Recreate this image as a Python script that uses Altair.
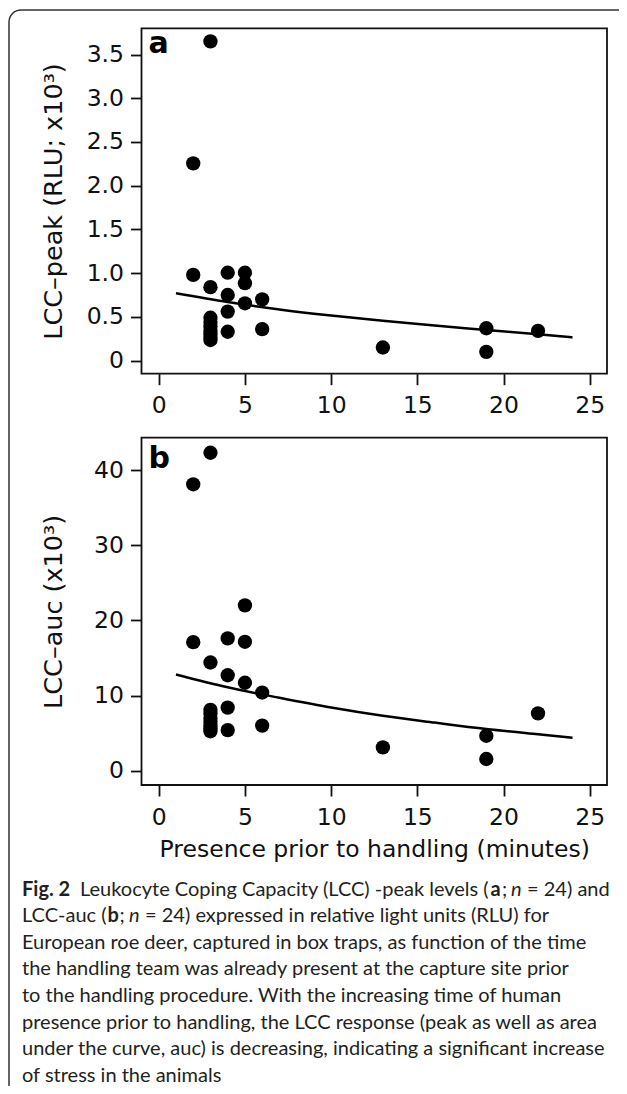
import altair as alt
import pandas as pd

# ---------------- data ----------------
minutes_a = [3, 2, 2, 3, 4, 5, 5, 4, 5, 6, 4, 6, 4, 13, 19, 19, 22, 3, 3, 3, 3, 3, 3, 3]
peak_a = [3.65, 2.255, 0.98, 0.84, 1.005, 1.005, 0.885, 0.75, 0.655, 0.70, 0.56, 0.36,
          0.33, 0.15, 0.37, 0.10, 0.34, 0.49, 0.44, 0.39, 0.34, 0.30, 0.26, 0.235]

minutes_b = [3, 2, 5, 2, 4, 5, 3, 4, 5, 6, 4, 4, 6, 13, 19, 19, 22, 3, 3, 3, 3, 3, 3, 3]
auc_b = [42.3, 38.1, 22.0, 17.1, 17.6, 17.15, 14.4, 12.7, 11.7, 10.4, 8.4, 5.4,
         6.0, 3.1, 4.65, 1.56, 7.63, 8.1, 7.6, 7.0, 6.5, 6.0, 5.6, 5.25]

fit_minutes = [1, 4, 7, 10, 13, 16, 19, 22, 24]
fit_peak = [0.77, 0.67, 0.585, 0.515, 0.455, 0.40, 0.35, 0.30, 0.265]
fit_auc = [12.8, 11.1, 9.7, 8.4, 7.3, 6.4, 5.55, 4.85, 4.4]

x_ticks = [0, 5, 10, 15, 20, 25]
peak_ticks = [0, 0.5, 1.0, 1.5, 2.0, 2.5, 3.0, 3.5]
auc_ticks = [0, 10, 20, 30, 40]
x_domain = [-1, 26]
peak_domain = [-0.15, 3.80]
auc_domain = [-1.9, 44.3]

x_title = "Presence prior to handling (minutes)"
peak_title = "LCC\u2013peak (RLU; x10\u00b3)"
auc_title = "LCC\u2013auc (x10\u00b3)"

caption_line1 = ["Fig. 2", "Leukocyte Coping Capacity (LCC) -peak levels (", "a", ";", "n", "= 24) and"]
caption_line2 = ["LCC-auc (", "b", ";", "n", "= 24) expressed in relative light units (RLU) for"]
caption_rest = [
    "European roe deer, captured in box traps, as function of the time",
    "the handling team was already present at the capture site prior",
    "to the handling procedure. With the increasing time of human",
    "presence prior to handling, the LCC response (peak as well as area",
    "under the curve, auc) is decreasing, indicating a significant increase",
    "of stress in the animals",
]

# ---------------- layout ----------------
W, H = 611, 1078
PL, PR = 133.5, 599.0
A_TOP, A_BOT = 20.3, 365.7
B_TOP, B_BOT = 429.7, 777.0
AX_FONT = "DejaVu Sans"
CAP_FONT = "Lato"
CAP_SIZE = 20
INK = "#111111"

one = pd.DataFrame({"k": [0]})


def x_axis(bottom, with_title):
    kw = dict(orient="bottom", offset=bottom - H, values=x_ticks, domain=False, grid=False,
              tickSize=11, tickWidth=1.8, tickColor=INK, labelFont=AX_FONT, labelFontSize=23.5,
              labelColor=INK, labelPadding=9, labelFlush=False, labelOverlap=False, labelBound=False)
    if with_title:
        kw.update(title=x_title, titleFont=AX_FONT, titleFontSize=23.5, titleFontWeight="normal",
                  titleColor=INK, titleX=(PL + PR) / 2, titleY=848.7 - bottom, titleAlign="center",
                  titleBaseline="alphabetic", titleAngle=0)
    else:
        kw.update(title=None)
    return alt.Axis(**kw)


def y_axis(values, title, center, label_expr=None):
    kw = dict(orient="left", offset=-PL, values=values, domain=False, grid=False,
              tickSize=11, tickWidth=1.8, tickColor=INK, labelFont=AX_FONT, labelFontSize=23.5,
              labelColor=INK, labelPadding=7, labelFlush=False, labelOverlap=False, labelBound=False,
              title=title, titleFont=AX_FONT, titleFontSize=25.5, titleFontWeight="normal",
              titleColor=INK, titleAngle=270, titleAlign="center", titleBaseline="alphabetic",
              titleX=53.7 - PL, titleY=center)
    if label_expr:
        kw["labelExpr"] = label_expr
    return alt.Axis(**kw)


def panel(xs, ys, fx, fy, y_dom, y_top, y_bot, y_vals, y_title, label, label_base, label_expr, with_title):
    xsc = alt.Scale(domain=x_domain, range=[PL, PR], nice=False, zero=False)
    ysc = alt.Scale(domain=y_dom, range=[y_bot, y_top], nice=False, zero=False)
    ex = alt.X("minutes:Q", scale=xsc, axis=x_axis(y_bot, with_title))
    ey = alt.Y("value:Q", scale=ysc, axis=y_axis(y_vals, y_title, (y_top + y_bot) / 2, label_expr))
    pts = alt.Chart(pd.DataFrame({"minutes": xs, "value": ys})).mark_circle(
        size=205, color="#000000", opacity=1).encode(x=ex, y=ey)
    fit = alt.Chart(pd.DataFrame({"minutes": fx, "value": fy})).mark_line(
        color="#000000", strokeWidth=2.5, interpolate="monotone").encode(x=ex, y=ey)
    frame = alt.Chart(one).mark_rect(fill="transparent", stroke=INK, strokeWidth=1.8).encode(
        x=alt.value(PL), x2=alt.value(PR), y=alt.value(y_top), y2=alt.value(y_bot))
    lab = alt.Chart(one).mark_text(text=label, font=AX_FONT, fontWeight="bold", fontSize=30,
                                   align="left", baseline="alphabetic", color="#000000").encode(
        x=alt.value(140.5), y=alt.value(label_base))
    return alt.layer(frame, fit, pts, lab)


panel_a = panel(minutes_a, peak_a, fit_minutes, fit_peak, peak_domain, A_TOP, A_BOT, peak_ticks,
                peak_title, "a", 45.3, "datum.value == 0 ? '0' : format(datum.value, '.1f')", False)
panel_b = panel(minutes_b, auc_b, fit_minutes, fit_auc, auc_domain, B_TOP, B_BOT, auc_ticks,
                auc_title, "b", 460.0, None, True)

border = alt.Chart(one).mark_rect(fill="transparent", stroke="#333333", strokeWidth=1.5,
                                  cornerRadius=12).encode(
    x=alt.value(1), x2=alt.value(W + 60), y=alt.value(2), y2=alt.value(H + 60))


def seg(text, x, y, weight="normal", style="normal"):
    return alt.Chart(one).mark_text(text=text, font=CAP_FONT, fontSize=CAP_SIZE, fontWeight=weight,
                                    fontStyle=style, align="left", baseline="alphabetic",
                                    color="#231f20").encode(x=alt.value(x), y=alt.value(y))


bases = [887.5, 914.1, 940.7, 967.3, 993.9, 1020.5, 1047.1, 1073.7]
cap = []
l1x = [14, 72, 482.5, 494, 503, 519]
l1s = [("bold", "normal"), ("normal", "normal"), ("bold", "normal"), ("normal", "normal"),
       ("normal", "italic"), ("normal", "normal")]
for t, x, (w, s) in zip(caption_line1, l1x, l1s):
    cap.append(seg(t, x, bases[0], w, s))
l2x = [14, 99.5, 111.5, 121, 137]
l2s = [("normal", "normal"), ("bold", "normal"), ("normal", "normal"), ("normal", "italic"),
       ("normal", "normal")]
for t, x, (w, s) in zip(caption_line2, l2x, l2s):
    cap.append(seg(t, x, bases[1], w, s))
for t, b in zip(caption_rest, bases[2:]):
    cap.append(seg(t, 14, b))

chart = alt.layer(panel_a, panel_b, border, *cap).resolve_scale(
    x="independent", y="independent"
).properties(
    width=W, height=H, autosize=alt.AutoSizeParams(type="none"), padding=0, background="white"
).configure_view(strokeWidth=0)

chart.save("out.html", embed_options={"renderer": "svg", "actions": False})
